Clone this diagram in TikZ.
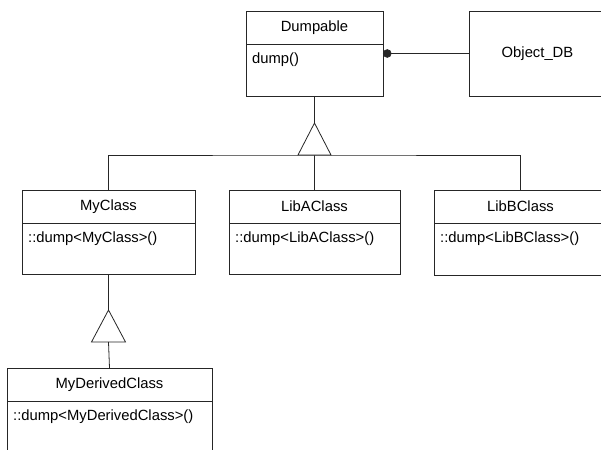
\documentclass[tikz,border=0pt]{standalone}
\usepackage{fontspec}
\setmainfont{Liberation Sans}
\usetikzlibrary{arrows.meta}

\tikzset{
    classbox/.style={draw=black!85, line width=0.8pt, inner sep=0pt, outer sep=0pt},
    clsname/.style={font=\fontsize{14.8}{17}\selectfont},
    clsop/.style={font=\fontsize{14.8}{17}\selectfont, anchor=west, inner sep=0pt},
    link/.style={draw=black!85, line width=0.8pt},
}

\begin{document}
\begin{tikzpicture}[x=1pt, y=-1pt]
    % Page: 601 x 449, y grows downwards
    \useasboundingbox (0,0) rectangle (601,449);
    \clip (0,0) rectangle (601,449);

    % Class boxes: name / centre x / centre y / width / height / title / operation
    \foreach \name/\cx/\cy/\w/\h/\cls/\op in {
        dumpable/314.5/53.5/137/85/{Dumpable}/{dump()},
        myclass/108.5/232/173/84/{MyClass}/{::dump<MyClass>()},
        libaclass/314.5/232/171/84/{LibAClass}/{::dump<LibAClass>()},
        libbclass/520.5/232.5/173/85/{LibBClass}/{::dump<LibBClass>()},
        myderived/109.5/410.5/205/85/{MyDerivedClass}/{::dump<MyDerivedClass>()}} {
        \node[classbox, minimum width=\w pt, minimum height=\h pt] (\name) at (\cx,\cy) {};
        \node[clsname] (\name-t) at ([yshift=-16.5pt]\name.north) {\cls};
        \draw[link] ([yshift=-33pt]\name.north west) -- ([yshift=-33pt]\name.north east);
        \node[clsop] (\name-op) at ([xshift=6pt,yshift=-49pt]\name.north west) {\op};
    }

    % Database box
    \node[classbox, clsname, minimum width=137pt, minimum height=85pt] (objectdb) at (537.5,53.5) {Object\_DB};

    % Association with filled dot
    \draw[link, {Circle[length=8.5pt]}-] (dumpable.east) -- (objectdb.west);

    % Generalization: three classes share one triangle
    \coordinate (bus) at ([yshift=-59pt]dumpable.south);
    \coordinate (tip) at ([yshift=32pt]bus);
    \draw[link] (myclass.north) |- (bus) -| (libbclass.north);
    \draw[link] (libaclass.north) -- (bus);
    \draw[link, fill=white] ([xshift=-16.5pt]bus) -- (tip) -- ([xshift=16.5pt]bus) -- cycle;
    \draw[link] (dumpable.south) -- (tip);

    % Generalization: MyDerivedClass from MyClass
    \coordinate (bus2) at ([yshift=-68pt]myclass.south);
    \coordinate (tip2) at ([yshift=32pt]bus2);
    \draw[link, fill=white] ([xshift=-17pt]bus2) -- (tip2) -- ([xshift=17pt]bus2) -- cycle;
    \draw[link] (myclass.south) -- (tip2);
    \draw[link] (bus2) -- (myderived.north);
\end{tikzpicture}
\end{document}
